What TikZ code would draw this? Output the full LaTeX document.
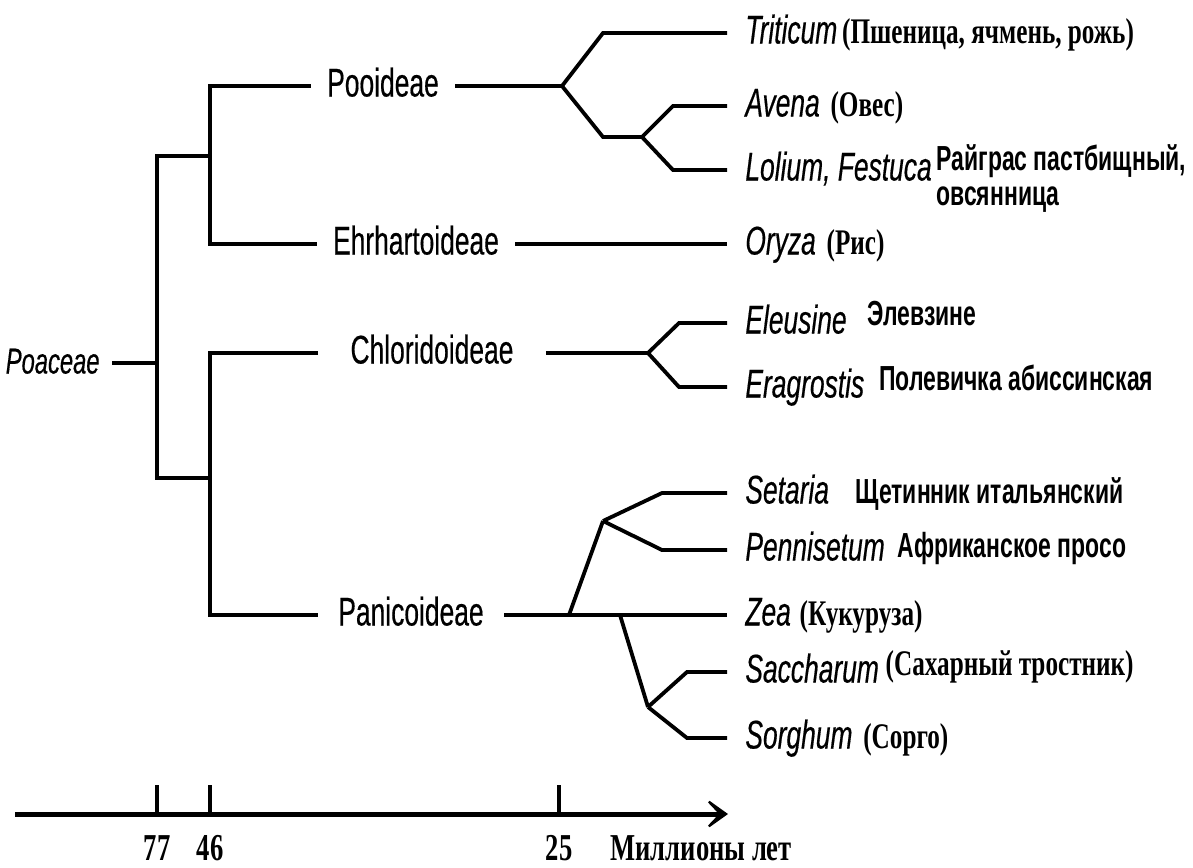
\documentclass[tikz,border=0pt]{standalone}
\usepackage{fontspec}
\usepackage{tikz}
\usetikzlibrary{positioning, arrows.meta}
\newfontfamily\arialf[FakeStretch=0.66, FakeBold=0.4]{Liberation Sans}
\newfontfamily\arialbf[FakeStretch=0.66]{Liberation Sans}
\newfontfamily\timesf[FakeStretch=0.70]{Liberation Serif}
\tikzstyle{branch}  = [line width=1.9pt]
\tikzstyle{clade}   = [font=\arialf\fontsize{20pt}{22pt}\selectfont, inner xsep=8pt, inner ysep=0pt, text height=14.5pt, text depth=4pt]
\tikzstyle{genus}   = [font=\arialf\itshape\fontsize{20pt}{22pt}\selectfont, anchor=west, inner sep=0pt, text height=14.5pt, text depth=4pt]
\tikzstyle{rusnote} = [font=\timesf\bfseries\fontsize{18pt}{20pt}\selectfont, inner sep=0pt]
\tikzstyle{rusbold} = [font=\arialbf\bfseries\fontsize{17.4pt}{20pt}\selectfont, inner sep=0pt]
\tikzstyle{axis}    = [line width=2.5pt, -{Stealth[length=14pt, width=20pt, inset=9.5pt]}]
\tikzstyle{tick}    = [line width=2pt]
\tikzstyle{yearlab} = [font=\timesf\bfseries\fontsize{19pt}{21pt}\selectfont, inner sep=0pt]
\tikzstyle{toleaf}  = [branch, shorten >=9pt]

\begin{document}
\begin{tikzpicture}[x=0.5pt, y=-0.5pt]
  \useasboundingbox (0,0) rectangle (1193,867);

  % branch points
  \coordinate (r0)  at (157,363);
  \coordinate (j1)  at (210,156);
  \coordinate (j2)  at (210,478);
  \coordinate (f1)  at (562,86);
  \coordinate (f1a) at (603,33);
  \coordinate (f1b) at (603,137);
  \coordinate (f2)  at (642,137);
  \coordinate (f2a) at (673,106);
  \coordinate (f2b) at (673,170);
  \coordinate (f3)  at (648,353);
  \coordinate (f3a) at (679,323);
  \coordinate (f3b) at (679,387);
  \coordinate (f4)  at (569,615);
  \coordinate (f4a) at (603,521);
  \coordinate (f4b) at (662,493);
  \coordinate (f4c) at (662,550);
  \coordinate (f5)  at (620,615);
  \coordinate (f6)  at (648,707);
  \coordinate (f6a) at (687,672);
  \coordinate (f6b) at (687,738);

  % family and subfamilies
  \node (poa) [genus, anchor=east, inner xsep=6pt, font=\arialf\itshape\fontsize{18pt}{20pt}\selectfont] at (112,363) {Poaceae};
  \node (poo) [clade]                  at (383,86)  {Pooideae};
  \node (ehr) [clade]                  at (416,244) {Ehrhartoideae};
  \node (chl) [clade, inner xsep=16pt] at (432,353) {Chloridoideae};
  \node (pan) [clade, inner xsep=10pt] at (411,615) {Panicoideae};

  % genera
  \node (tri) [genus] at (745,33)  {Triticum};
  \node (ave) [genus] at (745,106) {Avena};
  \node (lol) [genus] at (745,170) {Lolium, Festuca};
  \node (ory) [genus] at (745,244) {Oryza};
  \node (ele) [genus] at (745,323) {Eleusine};
  \node (era) [genus] at (745,387) {Eragrostis};
  \node (set) [genus] at (745,493) {Setaria};
  \node (pen) [genus] at (745,550) {Pennisetum};
  \node (zea) [genus] at (745,615) {Zea};
  \node (sac) [genus] at (745,672) {Saccharum};
  \node (sor) [genus] at (745,738) {Sorghum};

  % common names
  \node (tri2) [rusnote, base right=2pt of tri] {(Пшеница, ячмень, рожь)};
  \node (ave2) [rusnote, base right=5pt of ave] {(Овес)};
  \node (lol2) [rusbold, base right=2pt of lol, yshift=5pt] {Райграс пастбищный,};
  \node (lol3) [rusbold, anchor=base west] at ([yshift=-17.5pt]lol2.base west) {овсянница};
  \node (ory2) [rusnote, base right=5pt of ory] {(Рис)};
  \node (ele2) [rusbold, base right=10pt of ele, yshift=4pt] {Элевзине};
  \node (era2) [rusbold, base right=7pt of era, yshift=3.5pt] {Полевичка абиссинская};
  \node (set2) [rusbold, base right=13pt of set] {Щетинник итальянский};
  \node (pen2) [rusbold, base right=6pt of pen, yshift=1.5pt] {Африканское просо};
  \node (zea2) [rusnote, base right=4pt of zea] {(Кукуруза)};
  \node (sac2) [rusnote, base right=3pt of sac, yshift=3.5pt] {(Сахарный тростник)};
  \node (sor2) [rusnote, base right=5pt of sor] {(Сорго)};

  % tree
  \draw [branch] (poa) -- (r0);
  \draw [branch] (j1) -| (r0) |- (j2);
  \draw [branch] (poo) -| (j1) |- (ehr);
  \draw [branch] (chl) -| (j2) |- (pan);

  \draw [branch] (poo) -- (f1);
  \draw [toleaf] (f1) -- (f1a) -- (tri);
  \draw [branch] (f1) -- (f1b) -- (f2);
  \draw [toleaf] (f2) -- (f2a) -- (ave);
  \draw [toleaf] (f2) -- (f2b) -- (lol);

  \draw [toleaf] (ehr) -- (ory);

  \draw [branch] (chl) -- (f3);
  \draw [toleaf] (f3) -- (f3a) -- (ele);
  \draw [toleaf] (f3) -- (f3b) -- (era);

  \draw [toleaf] (pan) -- (zea);
  \draw [branch] (f4) -- (f4a);
  \draw [toleaf] (f4a) -- (f4b) -- (set);
  \draw [toleaf] (f4a) -- (f4c) -- (pen);
  \draw [branch] (f5) -- (f6);
  \draw [toleaf] (f6) -- (f6a) -- (sac);
  \draw [toleaf] (f6) -- (f6b) -- (sor);

  % time axis
  \coordinate (ax0) at (15,814);
  \coordinate (ax1) at (728,814);
  \draw [axis] (ax0) -- (ax1);
  \foreach \x/\t in {157/77, 210/46, 559/25} {
    \coordinate (tick\t) at (\x,814);
    \draw [tick] (tick\t) -- ++(0,-29);
    \node (lab\t) [yearlab, anchor=base] at (\x,860) {\t};
  }
  \node (unit) [yearlab, anchor=base west] at (610,860) {Миллионы лет};
\end{tikzpicture}
\end{document}
